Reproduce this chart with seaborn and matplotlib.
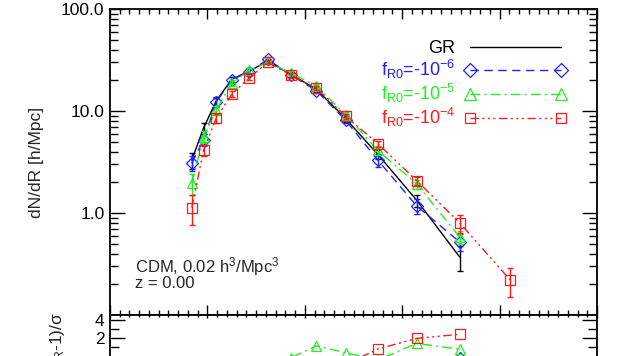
import matplotlib
matplotlib.use("Agg")
import matplotlib.pyplot as plt
import seaborn as sns
import pandas as pd
from matplotlib.lines import Line2D
from matplotlib.ticker import MultipleLocator, LogLocator, FuncFormatter, NullFormatter

# Void radius bins [Mpc/h]
radius = [8.4, 9.6, 10.9, 12.5, 14.3, 16.2, 18.6, 21.2, 24.2, 27.5, 31.5, 35.9, 41.1]

# dN/dR [h/Mpc] per model, with 1-sigma errors
gr = [3.3, 6.8, 12.5, 20.5, 24.5, 31.0, 22.8, 16.3, 8.4, 3.75, 1.33, 0.37]
gr_err = [0.6, 0.9, 1.3, 1.2, 1.2, 1.4, 1.1, 0.8, 0.6, 0.35, 0.18, 0.1]

f6 = [3.1, 5.2, 12.2, 20.2, 24.3, 32.0, 22.5, 15.8, 8.1, 3.3, 1.17, 0.52]
f6_err = [0.5, 0.7, 1.2, 1.3, 1.3, 1.5, 1.1, 0.8, 0.55, 0.45, 0.2, 0.1]

f5 = [1.95, 5.6, 10.2, 18.8, 25.0, 30.0, 23.5, 17.5, 9.2, 4.1, 1.92, 0.58]
f5_err = [0.45, 0.7, 1.0, 1.3, 1.3, 1.4, 1.1, 0.9, 0.6, 0.4, 0.2, 0.08]

f4 = [1.13, 4.1, 8.5, 14.6, 21.1, 30.0, 22.4, 16.7, 8.9, 4.78, 2.07, 0.80, 0.22]
f4_err = [0.36, 0.5, 0.8, 1.0, 1.1, 1.4, 1.1, 0.8, 0.55, 0.35, 0.2, 0.16, 0.07]

# Significance of the deviation from GR, (N_f/N_GR - 1)/sigma
dev_f6 = [-3.2, -2.1, -0.9, -0.8, -1.1, -0.6, -1.5, -1.3, -1.6, -1.8, -1.2, -0.15]
dev_f5 = [-3.8, -1.9, -1.6, -1.0, -0.7, -0.9, -0.1, 1.16, 0.43, -0.37, 1.45, 0.8]
dev_f4 = [-4.3, -3.6, -3.4, -3.1, -2.5, -1.6, -1.3, -1.0, -0.85, 0.83, 2.0, 2.44]

labels = ["GR", "f$_{R0}$=-10$^{-6}$", "f$_{R0}$=-10$^{-5}$", "f$_{R0}$=-10$^{-4}$"]

sns.set_style("ticks")
plt.rcParams.update({
    "font.family": ["Liberation Sans", "DejaVu Sans"],
    "mathtext.fontset": "custom",
    "mathtext.rm": "Liberation Sans",
    "mathtext.it": "Liberation Sans",
    "mathtext.bf": "Liberation Sans:bold",
    "mathtext.default": "regular",
    "axes.linewidth": 1.3,
    "axes.edgecolor": "black",
})

BLACK = "#000000"
BLUE = "#1f1fff"
GREEN = "#22ee22"
RED = "#ff1a1a"

styles = [
    dict(color=BLACK, linestyle="-", marker=None, ms=0),
    dict(color=BLUE, linestyle=(0, (6, 4)), marker="D", ms=6.5),
    dict(color=GREEN, linestyle=(0, (7, 3, 1.5, 3)), marker="^", ms=7.5),
    dict(color=RED, linestyle=(0, (6, 2.5, 1.5, 2.5, 1.5, 2.5, 1.5, 2.5)), marker="s", ms=6.5),
]

W, H = 623, 356
fig = plt.figure(figsize=(W / 100, H / 100), dpi=100)

left, right = 110, 597
top_y0, top_y1 = 9, 315
ax1 = fig.add_axes([left / W, 1 - top_y1 / H, (right - left) / W, (top_y1 - top_y0) / H])

dev_lo, dev_hi = -4.5, 4.55
px_per_unit = 9.15
bot_h = (dev_hi - dev_lo) * px_per_unit
ax2 = fig.add_axes([left / W, 1 - (top_y1 + bot_h) / H, (right - left) / W, bot_h / H])

ax1.set_yscale("log")

series = [(gr, gr_err), (f6, f6_err), (f5, f5_err), (f4, f4_err)]
for (vals, errs), st in zip(series, styles):
    n = len(vals)
    df = pd.DataFrame({"R": radius[:n], "dNdR": vals})
    kw = dict(color=st["color"], linestyle=st["linestyle"], linewidth=1.0)
    if st["marker"]:
        kw.update(marker=st["marker"], markersize=st["ms"], markerfacecolor="none",
                  markeredgecolor=st["color"], markeredgewidth=0.9)
    sns.lineplot(data=df, x="R", y="dNdR", ax=ax1, **kw)
    ax1.errorbar(radius[:n], vals, yerr=errs, fmt="none", ecolor=st["color"],
                 elinewidth=1.0, capsize=2.5, capthick=1.0)

for vals, st in zip([dev_f6, dev_f5, dev_f4], styles[1:]):
    df = pd.DataFrame({"R": radius[:len(vals)], "dev": vals})
    sns.lineplot(data=df, x="R", y="dev", ax=ax2, color=st["color"],
                 linestyle=st["linestyle"], linewidth=1.0, marker=st["marker"],
                 markersize=st["ms"], markerfacecolor="none",
                 markeredgecolor=st["color"], markeredgewidth=0.9)

# Axes ranges and ticks
for ax in (ax1, ax2):
    ax.set_xlim(0, 50)
    ax.xaxis.set_major_locator(MultipleLocator(10))
    ax.xaxis.set_minor_locator(MultipleLocator(1))
    ax.tick_params(axis="both", which="both", direction="in", top=True, right=True,
                   width=1.0, colors="black", labelsize=12.5, pad=4)
    ax.set_xlabel("")
    ax.set_ylabel("")
    for sp in ax.spines.values():
        sp.set_linewidth(1.3)
        sp.set_visible(True)

ax1.set_ylim(0.1, 100)
ax1.yaxis.set_major_locator(LogLocator(base=10, numticks=10))
ax1.yaxis.set_minor_locator(LogLocator(base=10, subs=range(2, 10), numticks=20))
ax1.yaxis.set_major_formatter(FuncFormatter(lambda v, p: f"{v:.1f}" if v >= 1 else ""))
ax1.yaxis.set_minor_formatter(NullFormatter())
ax1.tick_params(axis="y", which="major", length=10.8)
ax1.tick_params(axis="y", which="minor", length=5.8)
ax1.tick_params(axis="x", which="major", length=7.0)
ax1.tick_params(axis="x", which="minor", length=3.6)
ax1.tick_params(axis="x", labelbottom=False)
ax1.set_ylabel("dN/dR [h/Mpc]", fontsize=12.5)
ax1.yaxis.set_label_coords(-0.136, 0.5)

ax2.set_ylim(dev_lo, dev_hi)
ax2.yaxis.set_major_locator(MultipleLocator(2))
ax2.yaxis.set_minor_locator(MultipleLocator(1))
ax2.yaxis.set_major_formatter(FuncFormatter(lambda v, p: f"{int(round(v))}" if v > 0 else ""))
ax2.tick_params(axis="y", which="major", length=11.0)
ax2.tick_params(axis="y", which="minor", length=6.5)
ax2.tick_params(axis="x", which="major", length=2.4)
ax2.tick_params(axis="x", which="minor", length=1.4)
ax2.tick_params(axis="x", labelbottom=False)
fig.text(60 / W, 1 - 312 / H, "(N$_{f(R)}$/N$_{GR}$-1)/σ", rotation=90,
         ha="center", va="top", fontsize=12.5)

# Sample annotation (two tightly spaced lines)
ax1.text(0.051, 0.088, "CDM, 0.02 h$^3$/Mpc$^3$\nz = 0.00", transform=ax1.transAxes,
         va="baseline", ha="left", fontsize=12, linespacing=0.8)

# Legend
handles = []
for st in styles:
    if st["marker"]:
        h = Line2D([], [], color=st["color"], linestyle=st["linestyle"], linewidth=1.0,
                   marker=st["marker"], markersize=st["ms"] + 1, markerfacecolor="none",
                   markeredgecolor=st["color"], markeredgewidth=0.9)
    else:
        h = Line2D([], [], color=st["color"], linestyle=st["linestyle"], linewidth=1.0)
    handles.append(h)

leg = ax1.legend(handles, labels, loc="upper right", bbox_to_anchor=(0.937, 0.899),
                 frameon=False, numpoints=2, markerfirst=False, fontsize=13,
                 handlelength=5.66, handletextpad=0.48, labelspacing=0.05,
                 borderpad=0, borderaxespad=0)
for txt, st in zip(leg.get_texts(), styles):
    txt.set_color(st["color"])

fig.savefig("out.png", dpi=100)
